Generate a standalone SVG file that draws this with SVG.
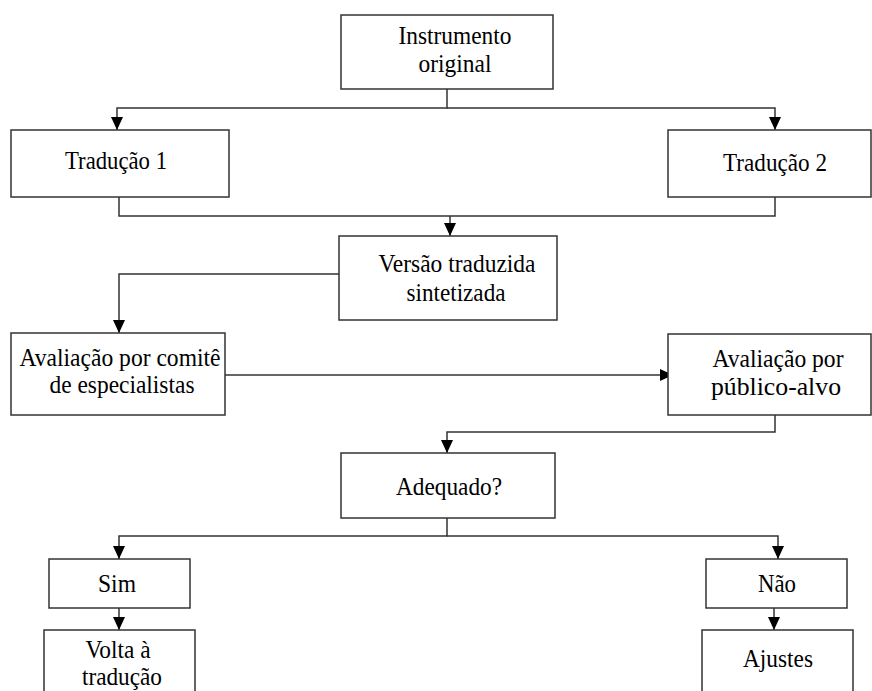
<svg xmlns="http://www.w3.org/2000/svg" width="872" height="691" viewBox="0 0 872 691">
  <style>
    .box { fill: #ffffff; stroke: #333333; stroke-width: 1.5; }
    .lbl { font-family: "Liberation Serif", "Times New Roman", serif; font-size: 26px; fill: #000000; text-anchor: middle; }
    .wire { fill: none; stroke: #333333; stroke-width: 1.5; }
  </style>
  <defs>
    <marker id="arrow" markerUnits="userSpaceOnUse" markerWidth="14" markerHeight="12" refX="13" refY="6" orient="auto">
      <path d="M0,0 L13,6 L0,12 z" fill="#000000"/>
    </marker>
  </defs>
  <rect width="872" height="691" fill="#ffffff"/>

  <g id="connectors">
    <path class="wire" d="M447,89 V108 H117 V130" marker-end="url(#arrow)"/>
    <path class="wire" d="M447,108 H775 V130" marker-end="url(#arrow)"/>
    <path class="wire" d="M119,197 V216 H775 V197"/>
    <path class="wire" d="M450,216 V236" marker-end="url(#arrow)"/>
    <path class="wire" d="M339,274 H119 V333" marker-end="url(#arrow)"/>
    <path class="wire" d="M225,375 H673" marker-end="url(#arrow)"/>
    <path class="wire" d="M775,415 V432 H447 V453" marker-end="url(#arrow)"/>
    <path class="wire" d="M447,518 V536 H119 V559" marker-end="url(#arrow)"/>
    <path class="wire" d="M447,536 H778 V559" marker-end="url(#arrow)"/>
    <path class="wire" d="M119,608 V630" marker-end="url(#arrow)"/>
    <path class="wire" d="M774,608 V630" marker-end="url(#arrow)"/>
  </g>

  <g id="instrumento">
    <rect class="box" x="341" y="15" width="212" height="74"/>
    <text class="lbl" x="455" y="44" textLength="113" lengthAdjust="spacingAndGlyphs">Instrumento</text>
    <text class="lbl" x="455" y="72" textLength="73" lengthAdjust="spacingAndGlyphs">original</text>
  </g>
  <g id="traducao1">
    <rect class="box" x="11" y="130" width="218" height="67"/>
    <text class="lbl" x="116" y="169" textLength="102" lengthAdjust="spacingAndGlyphs">Tradução 1</text>
  </g>
  <g id="traducao2">
    <rect class="box" x="668" y="130" width="203" height="67"/>
    <text class="lbl" x="775" y="171" textLength="104" lengthAdjust="spacingAndGlyphs">Tradução 2</text>
  </g>
  <g id="versao">
    <rect class="box" x="339" y="236" width="218" height="84"/>
    <text class="lbl" x="457" y="272" textLength="157" lengthAdjust="spacingAndGlyphs">Versão traduzida</text>
    <text class="lbl" x="456" y="301" textLength="99" lengthAdjust="spacingAndGlyphs">sintetizada</text>
  </g>
  <g id="comite">
    <rect class="box" x="11" y="333" width="214" height="82"/>
    <text class="lbl" x="120" y="366" textLength="201" lengthAdjust="spacingAndGlyphs">Avaliação por comitê</text>
    <text class="lbl" x="122" y="393" textLength="145" lengthAdjust="spacingAndGlyphs">de especialistas</text>
  </g>
  <g id="publico">
    <rect class="box" x="668" y="334" width="203" height="81"/>
    <text class="lbl" x="778" y="367" textLength="131" lengthAdjust="spacingAndGlyphs">Avaliação por</text>
    <text class="lbl" x="776" y="395" textLength="130" lengthAdjust="spacingAndGlyphs">público-alvo</text>
  </g>
  <g id="adequado">
    <rect class="box" x="341" y="453" width="214" height="65"/>
    <text class="lbl" x="449" y="495" textLength="106" lengthAdjust="spacingAndGlyphs">Adequado?</text>
  </g>
  <g id="sim">
    <rect class="box" x="49" y="559" width="141" height="49"/>
    <text class="lbl" x="117" y="592" textLength="38" lengthAdjust="spacingAndGlyphs">Sim</text>
  </g>
  <g id="nao">
    <rect class="box" x="706" y="559" width="141" height="49"/>
    <text class="lbl" x="777" y="592" textLength="38" lengthAdjust="spacingAndGlyphs">Não</text>
  </g>
  <g id="volta">
    <rect class="box" x="44" y="630" width="151" height="70"/>
    <text class="lbl" x="118" y="658" textLength="65" lengthAdjust="spacingAndGlyphs">Volta à</text>
    <text class="lbl" x="122" y="685" textLength="80" lengthAdjust="spacingAndGlyphs">tradução</text>
  </g>
  <g id="ajustes">
    <rect class="box" x="702" y="630" width="151" height="70"/>
    <text class="lbl" x="778" y="667" textLength="70" lengthAdjust="spacingAndGlyphs">Ajustes</text>
  </g>
</svg>
